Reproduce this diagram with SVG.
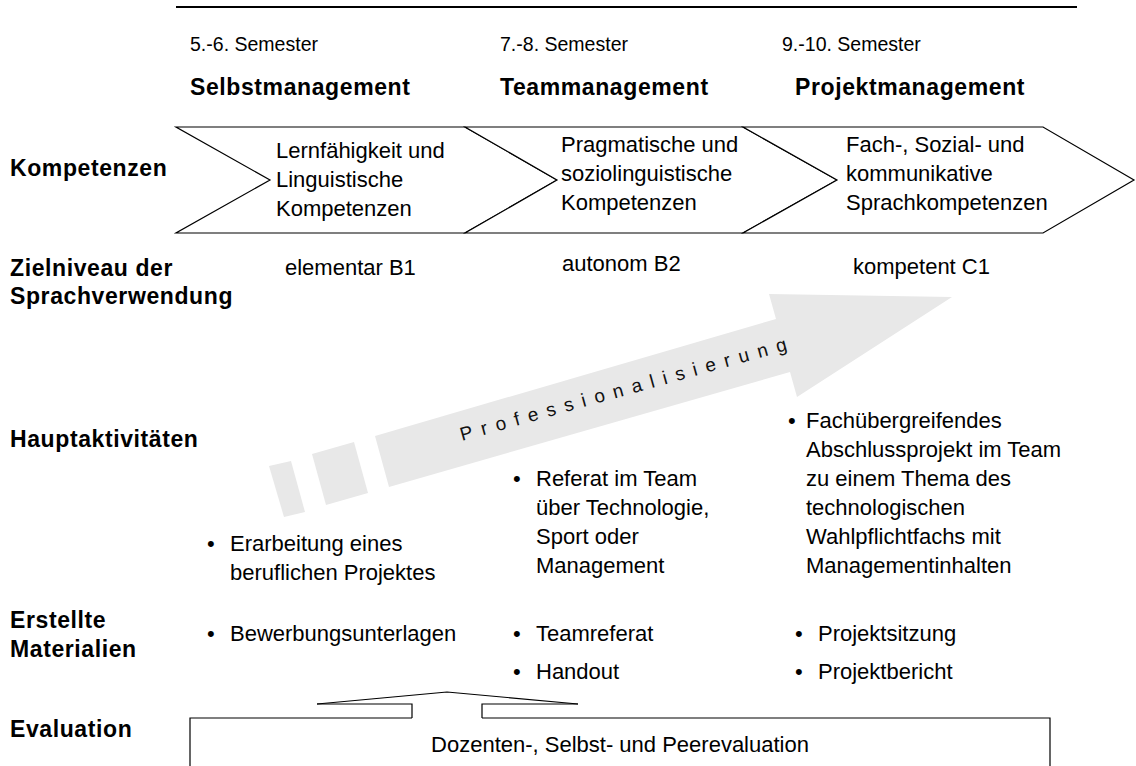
<svg xmlns="http://www.w3.org/2000/svg" width="1136" height="766" viewBox="0 0 1136 766">
<style>
text{font-family:"Liberation Sans",Arial,sans-serif;font-size:22px;fill:#000}
.b{font-weight:bold;font-size:23px;letter-spacing:0.6px}
.sem{font-size:21px}
.chev{fill:#fff;stroke:#000;stroke-width:1.2}
.arrow{fill:#e8e8e8;stroke:none}
.ln{fill:none;stroke:#000;stroke-width:1.2}
.prof{font-size:19px;letter-spacing:8.8px;fill:#111}
</style>
<rect width="1136" height="766" fill="#fff"/>
<line x1="176" y1="7" x2="1077" y2="7" stroke="#000" stroke-width="2"/>

<g id="arrow-professionalisierung">
<polygon class="arrow" points="269,466 291,461 305,512 284,517"/>
<polygon class="arrow" points="312,454 354,442 368,493 326,505"/>
<polygon class="arrow" points="375,436 776,319 769,294 952,297 797,397 790,372 389,487"/>
<text class="prof" transform="translate(462,441) rotate(-15.6)">Professionalisierung</text>
</g>

<g id="header-col1">
<text class="sem" transform="translate(190,51) scale(0.93,1)">5.-6. Semester</text>
<text class="b" x="190" y="95">Selbstmanagement</text>
</g>
<g id="header-col2">
<text class="sem" transform="translate(500,51) scale(0.93,1)">7.-8. Semester</text>
<text class="b" x="500" y="95">Teammanagement</text>
</g>
<g id="header-col3">
<text class="sem" transform="translate(782,51) scale(0.93,1)">9.-10. Semester</text>
<text class="b" x="795" y="95">Projektmanagement</text>
</g>

<g id="row-labels">
<text class="b" x="10" y="176">Kompetenzen</text>
<text class="b" x="10" y="276">Zielniveau der</text>
<text class="b" x="10" y="304">Sprachverwendung</text>
<text class="b" x="10" y="447">Hauptaktivitäten</text>
<text class="b" x="10" y="628">Erstellte</text>
<text class="b" x="10" y="657">Materialien</text>
<text class="b" x="10" y="737">Evaluation</text>
</g>

<g id="chevron1">
<polygon class="chev" points="176,127 465,127 557,180 465,233 176,233 270,180"/>
<text x="276" y="158">Lernfähigkeit und</text>
<text x="276" y="187">Linguistische</text>
<text x="276" y="216">Kompetenzen</text>
</g>
<g id="chevron2">
<polygon class="chev" points="465,127 743,127 837,180 743,233 465,233 557,180"/>
<text x="561" y="152">Pragmatische und</text>
<text x="561" y="181">soziolinguistische</text>
<text x="561" y="210">Kompetenzen</text>
</g>
<g id="chevron3">
<polygon class="chev" points="743,127 1043,127 1134,180 1043,233 743,233 837,180"/>
<text x="846" y="152">Fach-, Sozial- und</text>
<text x="846" y="181">kommunikative</text>
<text x="846" y="210">Sprachkompetenzen</text>
</g>

<g id="level-col1"><text x="285" y="275">elementar B1</text></g>
<g id="level-col2"><text x="562" y="271">autonom B2</text></g>
<g id="level-col3"><text x="853" y="274">kompetent C1</text></g>

<g id="activity-col1">
<text x="207" y="551">•</text>
<text x="230" y="551">Erarbeitung eines</text>
<text x="230" y="580">beruflichen Projektes</text>
</g>
<g id="activity-col2">
<text x="513" y="486">•</text>
<text x="536" y="486">Referat im Team</text>
<text x="536" y="515">über Technologie,</text>
<text x="536" y="544">Sport oder</text>
<text x="536" y="573">Management</text>
</g>
<g id="activity-col3">
<text x="788" y="428">•</text>
<text x="806" y="428">Fachübergreifendes</text>
<text x="806" y="457">Abschlussprojekt im Team</text>
<text x="806" y="486">zu einem Thema des</text>
<text x="806" y="515">technologischen</text>
<text x="806" y="544">Wahlpflichtfachs mit</text>
<text x="806" y="573">Managementinhalten</text>
</g>

<g id="materials-col1">
<text x="207" y="641">•</text>
<text x="230" y="641">Bewerbungsunterlagen</text>
</g>
<g id="materials-col2">
<text x="513" y="641">•</text>
<text x="536" y="641">Teamreferat</text>
<text x="513" y="679">•</text>
<text x="536" y="679">Handout</text>
</g>
<g id="materials-col3">
<text x="795" y="641">•</text>
<text x="818" y="641">Projektsitzung</text>
<text x="795" y="679">•</text>
<text x="818" y="679">Projektbericht</text>
</g>

<g id="connectors">
<polyline class="ln" points="317,704 447,692 578,704"/>
<polyline class="ln" points="317,704 412,704 412,718"/>
<polyline class="ln" points="578,704 482,704 482,718"/>
</g>

<g id="evaluation">
<polyline class="ln" points="412,718 190,718 190,770"/>
<polyline class="ln" points="482,718 1050,718 1050,770"/>
<text x="620" y="752" text-anchor="middle">Dozenten-, Selbst- und Peerevaluation</text>
</g>
</svg>
